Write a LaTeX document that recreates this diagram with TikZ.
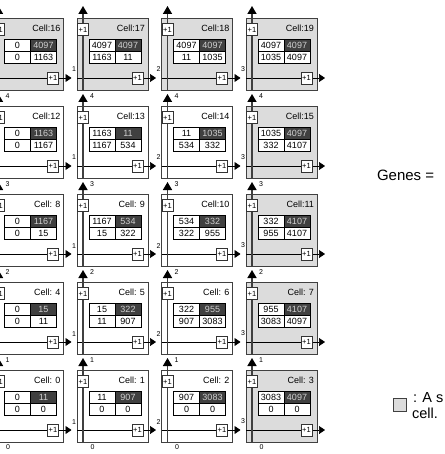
\documentclass[tikz,border=0pt]{standalone}
\usepackage{fontspec}
\setmainfont{Liberation Sans}
\usetikzlibrary{arrows.meta}
\definecolor{cellgray}{HTML}{DCDCDC}
\definecolor{darkcell}{HTML}{404040}
\definecolor{darktext}{HTML}{D0D0D0}
\begin{document}
\begin{tikzpicture}[x=1pt,y=-1pt,
  every node/.style={inner sep=0pt, outer sep=0pt},
  cellbox/.style={draw=black!75, line width=0.8pt, minimum width=71pt, minimum height=72pt, anchor=north west},
  tcell/.style={draw=black, line width=0.8pt, fill=white, minimum width=26pt, minimum height=12pt, anchor=north west, font=\fontsize{9}{9}\selectfont},
  tdark/.style={tcell, fill=darkcell, text=darktext},
  incbox/.style={draw=black!80, line width=0.8pt, fill=white, minimum width=11pt, minimum height=12pt, font=\fontsize{7.5}{7.5}\selectfont},
  cname/.style={anchor=east, font=\fontsize{9}{9}\selectfont},
  lbl/.style={font=\fontsize{7}{7}\selectfont},
  hline/.style={draw=black, line width=0.7pt, -{Triangle[length=6pt,width=8pt]}},
  vline/.style={draw=black!75, line width=1.5pt, -{Triangle[length=8pt,width=9pt,color=black]}},
  legbox/.style={draw=black!75, line width=0.8pt, fill=cellgray, minimum width=13pt, minimum height=13pt, anchor=north west},
]
\useasboundingbox (0,0) rectangle (444,454);
\clip (0,0) rectangle (444,454);
\foreach \n/\va/\vb/\vc/\vd in {
  16/0/4097/0/1163, 17/4097/4097/1163/11, 18/4097/4097/11/1035, 19/4097/4097/1035/4097,
  12/0/1163/0/1167, 13/1163/11/1167/534, 14/11/1035/534/332, 15/1035/4097/332/4107,
  8/0/1167/0/15, 9/1167/534/15/322, 10/534/332/322/955, 11/332/4107/955/4107,
  4/0/15/0/11, 5/15/322/11/907, 6/322/955/907/3083, 7/955/4107/3083/4097,
  0/0/11/0/0, 1/11/907/0/0, 2/907/3083/0/0, 3/3083/4097/0/0}{
  \pgfmathtruncatemacro\c{mod(\n,4)}
  \pgfmathtruncatemacro\r{4-int(\n/4)}
  \pgfmathsetmacro\bx{-7.5+84.5*\c}
  \pgfmathsetmacro\by{18+88*\r}
  \pgfmathtruncatemacro\hl{\c+1}
  \pgfmathtruncatemacro\vl{5-\r}
  \ifnum\r=0 \def\fc{cellgray}\else\ifnum\c=3 \def\fc{cellgray}\else\def\fc{white}\fi\fi
  \node[cellbox, fill=\fc] (box\n) at (\bx,\by) {};
  \node[cname] (name\n) at (\bx+68,\by+10) {\ifnum\n<10 Cell: \n\else Cell:\n\fi};
  \node[tcell] (ta\n) at (\bx+12,\by+21) {\va};
  \node[tdark] (tb\n) at (\bx+38,\by+21) {\vb};
  \node[tcell] (tc\n) at (\bx+12,\by+33) {\vc};
  \node[tcell] (td\n) at (\bx+38,\by+33) {\vd};
  \coordinate (hs\n) at (\bx,\by+60);
  \coordinate (he\n) at (\bx+79,\by+60);
  \draw[hline] (hs\n) -- (he\n);
  \coordinate (vs\n) at (\bx+6,\by+72);
  \coordinate (ve\n) at (\bx+6,\by-12);
  \draw[vline] (vs\n) -- (ve\n);
  \node[incbox] (up\n) at (\bx+6,\by+11.5) {+1};
  \node[incbox] (rt\n) at (\bx+60.5,\by+60) {+1};
  \ifnum\c<3 \node[lbl, anchor=south west] (hl\n) at (\bx+79.5,\by+54) {\hl};\fi
  \ifnum\r>0 \node[lbl, anchor=west] (vl\n) at (\bx+13,\by-10) {\vl};\fi
  \ifnum\r=4 \node[lbl, anchor=west] (bl\n) at (\bx+13.5,\by+77) {0};\fi
}
\node[font=\fontsize{15}{15}\selectfont, anchor=base west] (genes) at (377,180) {Genes =};
\node[legbox] (leg) at (393,398) {};
\node[font=\fontsize{14.5}{14.5}\selectfont, anchor=base west] (legt1) at (413,402) {: A s};
\node[font=\fontsize{14.5}{14.5}\selectfont, anchor=base west] (legt2) at (412,418) {cell.};
\end{tikzpicture}
\end{document}
